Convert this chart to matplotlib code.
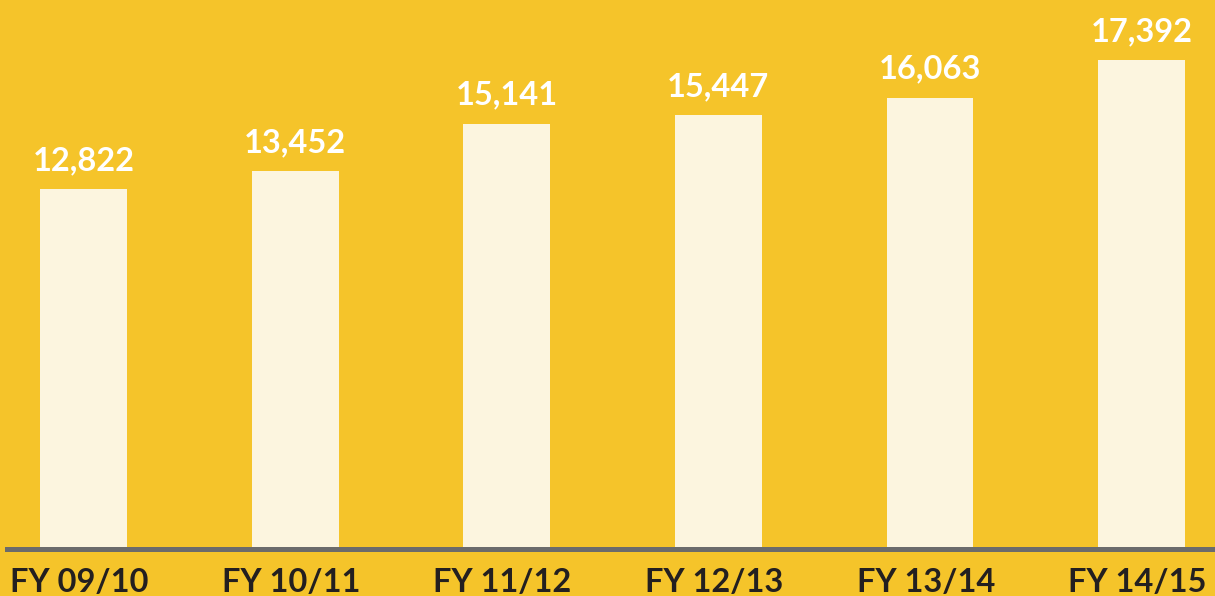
import matplotlib
matplotlib.use("Agg")
import matplotlib.pyplot as plt
from matplotlib.lines import Line2D

categories = ["FY 09/10", "FY 10/11", "FY 11/12", "FY 12/13", "FY 13/14", "FY 14/15"]
values = [12822, 13452, 15141, 15447, 16063, 17392]

BG = "#F5C42A"
W, H = 1215, 596
fig = plt.figure(figsize=(W / 100, H / 100), dpi=100, facecolor=BG)
ax = fig.add_axes([0, 47 / H, 1, 1 - 47 / H])
ax.set_facecolor(BG)

x = list(range(len(categories)))
ax.bar(x, values, width=0.41, color="#FCF5DF", edgecolor="none", zorder=2)
ax.set_xlim(-0.395, 5.347)
ax.set_ylim(0, 549 / 0.0281)

for xi, v in zip(x, values):
    ax.annotate(f"{v:,}", (xi, v), xytext=(0, 10), textcoords="offset points",
                ha="center", va="bottom", color="white", fontsize=23.5,
                fontfamily="Lato", fontweight="bold")
    ax.annotate(categories[xi], (xi, 0), xytext=(-3, -14), textcoords="offset points",
                ha="center", va="top", color="#231F20", fontsize=23.5,
                fontfamily="Lato", fontweight="bold", annotation_clip=False)

for s in ax.spines.values():
    s.set_visible(False)
ax.set_xticks([])
ax.set_yticks([])

fig.add_artist(Line2D([7 / W, 1], [47 / H, 47 / H], color="#6B6B6B", lw=3.6,
                      transform=fig.transFigure, zorder=5))

fig.savefig("out.png", dpi=100, facecolor=BG)
